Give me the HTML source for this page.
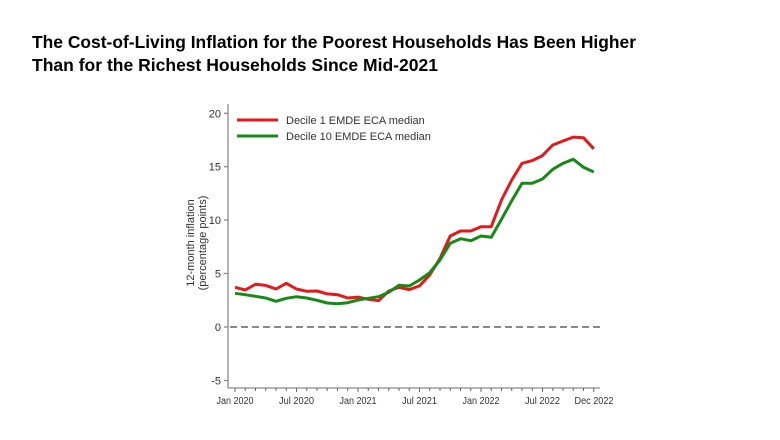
<!DOCTYPE html>
<html><head><meta charset="utf-8"><style>
html,body{margin:0;padding:0;background:#fff;}
svg{display:block;}
</style></head><body>
<svg width="780" height="440" viewBox="0 0 780 440" xmlns="http://www.w3.org/2000/svg">
<rect width="780" height="440" fill="#fff"/>
<g font-family="Liberation Sans, Arial, sans-serif" font-weight="bold" font-size="17.5" fill="#000">
<text x="32" y="48" textLength="604" lengthAdjust="spacingAndGlyphs">The Cost-of-Living Inflation for the Poorest Households Has Been Higher</text>
<text x="32" y="71" textLength="406" lengthAdjust="spacingAndGlyphs">Than for the Richest Households Since Mid-2021</text>
</g>
<!-- axes -->
<g stroke="#8a8a8a" stroke-width="1.3" fill="none">
<line x1="228" y1="104" x2="228" y2="388"/>
<line x1="228" y1="388" x2="600" y2="388"/>
<line x1="224" y1="113.3" x2="228" y2="113.3"/>
<line x1="224" y1="166.7" x2="228" y2="166.7"/>
<line x1="224" y1="220" x2="228" y2="220"/>
<line x1="224" y1="273.5" x2="228" y2="273.5"/>
<line x1="224" y1="327" x2="228" y2="327"/>
<line x1="224" y1="380.5" x2="228" y2="380.5"/>
</g>
<g stroke="#666" stroke-width="1">
<path d="M235 388v4M245.25 388v3M255.5 388v3M265.75 388v3M276 388v3M286.25 388v3M296.5 388v4M306.75 388v3M317 388v3M327.25 388v3M337.5 388v3M347.75 388v3M358 388v4M368.25 388v3M378.5 388v3M388.75 388v3M399 388v3M409.25 388v3M419.5 388v4M429.75 388v3M440 388v3M450.25 388v3M460.5 388v3M470.75 388v3M481 388v4M491.25 388v3M501.5 388v3M511.75 388v3M522 388v3M532.25 388v3M542.5 388v4M552.75 388v3M563 388v3M573.25 388v3M583.5 388v3M593.75 388v4"/>
</g>
<g font-family="Liberation Sans, Arial, sans-serif" font-size="11" fill="#333" text-anchor="end">
<text x="221" y="117.3">20</text>
<text x="221" y="170.7">15</text>
<text x="221" y="224">10</text>
<text x="221" y="277.5">5</text>
<text x="221" y="331">0</text>
<text x="221" y="384.5">-5</text>
</g>
<g font-family="Liberation Sans, Arial, sans-serif" font-size="10" fill="#333">
<text x="216.5" y="404" textLength="37" lengthAdjust="spacingAndGlyphs">Jan 2020</text>
<text x="279" y="404" textLength="35" lengthAdjust="spacingAndGlyphs">Jul 2020</text>
<text x="339.5" y="404" textLength="37" lengthAdjust="spacingAndGlyphs">Jan 2021</text>
<text x="402" y="404" textLength="35" lengthAdjust="spacingAndGlyphs">Jul 2021</text>
<text x="462.5" y="404" textLength="37" lengthAdjust="spacingAndGlyphs">Jan 2022</text>
<text x="525" y="404" textLength="35" lengthAdjust="spacingAndGlyphs">Jul 2022</text>
<text x="574.5" y="404" textLength="39" lengthAdjust="spacingAndGlyphs">Dec 2022</text>
</g>
<g font-family="Liberation Sans, Arial, sans-serif" font-size="11" fill="#333" text-anchor="middle">
<text transform="translate(194,243) rotate(-90)">12-month inflation</text>
<text transform="translate(206,243) rotate(-90)">(percentage points)</text>
</g>
<!-- zero line -->
<line x1="230" y1="327" x2="600" y2="327" stroke="#444" stroke-width="1.3" stroke-dasharray="7,4"/>
<!-- series -->
<polyline fill="none" stroke="#e3191c" stroke-width="3" stroke-linejoin="round" points="235,287.3 245.25,290 255.5,284.3 265.75,285.4 276,289 286.25,283.3 296.5,289 306.75,291.3 317,291 327.25,293.9 337.5,294.7 347.75,298 358,297.1 368.25,299.3 378.5,300.7 388.75,291 399,287.3 409.25,289.6 419.5,285.9 429.75,275 440,258.4 450.25,236 460.5,231 470.75,231 481,226.7 491.25,226.7 501.5,200 511.75,180 522,163.3 532.25,160.6 542.5,155.6 552.75,145 563,141 573.25,137.1 583.5,137.7 593.75,148.8"/>
<polyline fill="none" stroke="#168a16" stroke-width="3" stroke-linejoin="round" points="235,293.3 245.25,294.7 255.5,296.3 265.75,298 276,301.3 286.25,298.3 296.5,296.7 306.75,298 317,300.3 327.25,303 337.5,303.7 347.75,302.7 358,300 368.25,298.3 378.5,296.7 388.75,292.3 399,285.3 409.25,286 419.5,280 429.75,272.7 440,260 450.25,243.3 460.5,238.7 470.75,240.7 481,236 491.25,237.3 501.5,219.3 511.75,200.7 522,183.3 532.25,183.3 542.5,179 552.75,169.3 563,163.3 573.25,159.3 583.5,167.3 593.75,172"/>
<!-- legend -->
<line x1="237" y1="120" x2="278" y2="120" stroke="#e3191c" stroke-width="3"/>
<line x1="237" y1="136" x2="278" y2="136" stroke="#168a16" stroke-width="3"/>
<g font-family="Liberation Sans, Arial, sans-serif" font-size="11" fill="#333">
<text x="286" y="124">Decile 1 EMDE ECA median</text>
<text x="286" y="140">Decile 10 EMDE ECA median</text>
</g>
</svg>
</body></html>
